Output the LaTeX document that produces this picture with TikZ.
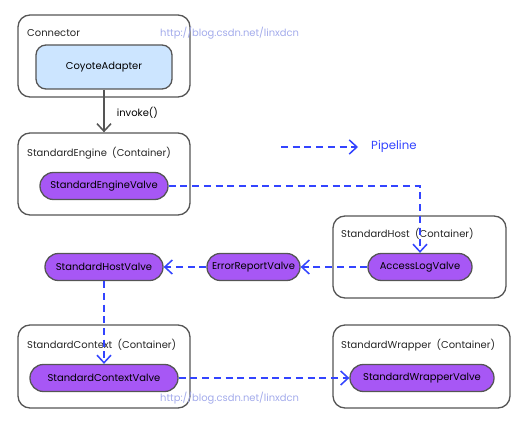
\documentclass[tikz,border=0pt]{standalone}
\usepackage{fontspec}
\setmainfont{Poppins}
\usepackage{xcolor}
\usepackage{tikz}
\usetikzlibrary{arrows.meta, positioning}

\definecolor{valvepurple}{HTML}{A757F5}
\definecolor{adapterblue}{HTML}{CCE5FF}
\definecolor{pipeblue}{HTML}{3344FF}
\definecolor{boxgray}{HTML}{555555}
\definecolor{markblue}{HTML}{A3ABEB}

\begin{document}
\begin{tikzpicture}[
    x=0.03cm, y=-0.03cm,
    font=\fontsize{8.5}{10}\selectfont,
    container/.style={rectangle, draw=boxgray, line width=1.1pt, rounded corners=0.36cm, minimum width=5.16cm, minimum height=2.46cm},
    title/.style={anchor=west, inner sep=0pt, text=black!85},
    valve/.style={rectangle, draw=boxgray, line width=1.1pt, fill=valvepurple, rounded corners=0.4cm, minimum height=0.81cm, inner sep=0pt},
    adapter/.style={rectangle, draw=boxgray, line width=1.1pt, fill=adapterblue, rounded corners=0.3cm, minimum width=4.08cm, minimum height=1.32cm},
    pipe/.style={draw=pipeblue, line width=1.3pt, dash pattern=on 6pt off 4pt, -{Straight Barb[length=6.5pt, width=12pt]}},
    call/.style={draw=boxgray, line width=1.3pt, -{Straight Barb[length=6.5pt, width=12pt]}},
    watermark/.style={text=markblue, inner sep=0pt, anchor=west}
]
    \useasboundingbox (0,0) rectangle (529,425);

    % Containers
    \node[container] (con) at (104,56) {};
    \node[container] (eng) at (104,174) {};
    \node[container, minimum width=5.19cm] (hst) at (419.5,257) {};
    \node[container, minimum height=2.49cm] (ctx) at (104,366.5) {};
    \node[container, minimum width=5.31cm, minimum height=2.49cm] (wrp) at (421.5,366.5) {};

    % Titles
    \node[title] (cont) at (27,33) {Connector};
    \node[title] (engt) at (27,153) {StandardEngine~~(Container)};
    \node[title] (hstt) at (341,234) {StandardHost~~(Container)};
    \node[title] (ctxt) at (27,345) {StandardContext~~(Container)};
    \node[title] (wrpt) at (341,345) {StandardWrapper~~(Container)};

    % Adapter and valves
    \node[adapter] (coy) at (104,67) {CoyoteAdapter};
    \node[valve, minimum width=3.84cm] (engv) at (104,186) {StandardEngineValve};
    \node[valve, minimum width=3.12cm] (accv) at (420,267) {AccessLogValve};
    \node[valve, minimum width=2.79cm] (errv) at (253.5,267) {ErrorReportValve};
    \node[valve, minimum width=3.54cm] (hstv) at (104,267) {StandardHostValve};
    \node[valve, minimum width=4.44cm] (ctxv) at (104,378) {StandardContextValve};
    \node[valve, minimum width=4.32cm] (wrpv) at (422,378) {StandardWrapperValve};

    % Legend
    \coordinate (legs) at (281,147);
    \coordinate (lege) at (358,147);
    \node[anchor=west, inner sep=0pt, text=pipeblue, font=\fontsize{10}{12}\selectfont] (pl) at (371,147) {Pipeline};

    % Watermarks
    \node[watermark] (wm1) at (160,33) {http://blog.csdn.net/linxdcn};
    \node[watermark] (wm2) at (160,398) {http://blog.csdn.net/linxdcn};

    \draw[call] (coy) -- node[right=7pt, pos=0.55] {invoke()} (eng);
    \draw[pipe] (legs) -- (lege);
    \draw[pipe] (engv.east) -| (accv.north);
    \draw[pipe] (accv) -- (errv);
    \draw[pipe] (errv) -- (hstv);
    \draw[pipe] (hstv) -- (ctxv);
    \draw[pipe] (ctxv) -- (wrpv);
\end{tikzpicture}
\end{document}
